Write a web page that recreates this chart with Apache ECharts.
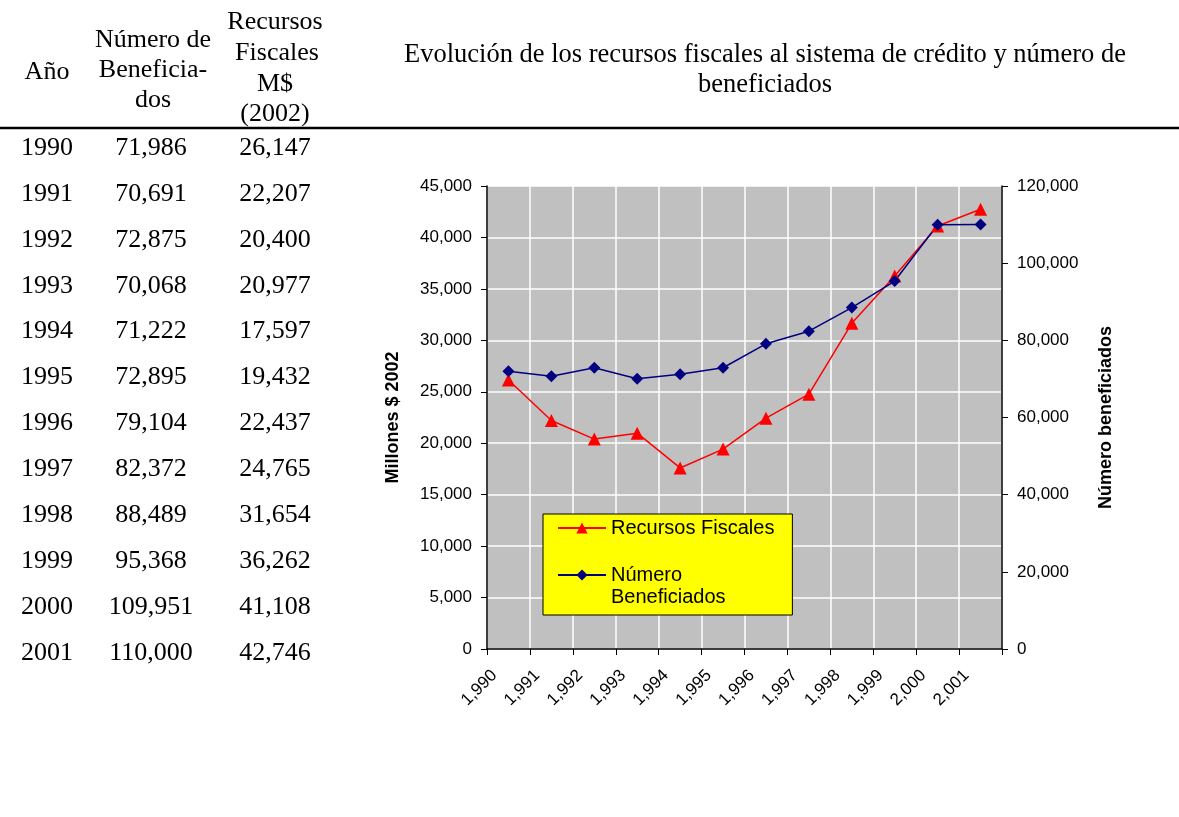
<!DOCTYPE html>
<html>
<head>
<meta charset="utf-8">
<title>Recursos fiscales y beneficiados</title>
<script src="https://cdn.jsdelivr.net/npm/echarts@6/dist/echarts.min.js"></script>
<style>
  html, body { margin: 0; padding: 0; background: #fff; }
  #main { width: 1179px; height: 817px; }
</style>
</head>
<body>
<div id="main"></div>
<script>
// datos de la tabla
var years = [1990, 1991, 1992, 1993, 1994, 1995, 1996, 1997, 1998, 1999, 2000, 2001];
var beneficiados = [71986, 70691, 72875, 70068, 71222, 72895, 79104, 82372, 88489, 95368, 109951, 110000];
var recursos = [26147, 22207, 20400, 20977, 17597, 19432, 22437, 24765, 31654, 36262, 41108, 42746];

var serif = '"Liberation Serif", "Times New Roman", serif';
var sans = '"Liberation Sans", Arial, sans-serif';

function fmt(v) {
  return Number(v).toLocaleString('en-US');
}

// tabla de la izquierda como texto
var graphics = [];
function addText(str, x, y, size) {
  graphics.push({
    type: 'text', x: x, y: y,
    style: { text: str, font: (size || 26) + 'px ' + serif, fill: '#000', textAlign: 'center', textVerticalAlign: 'middle' }
  });
}
addText('Año', 47, 72);
addText('Número de', 153, 40);
addText('Beneficia-', 153, 70);
addText('dos', 153, 100);
addText('Recursos', 275, 22);
addText('Fiscales', 277, 53);
addText('M$', 275, 84);
addText('(2002)', 275, 114);
for (var i = 0; i < years.length; i++) {
  var y = 148 + i * 45.9;
  addText(String(years[i]), 47, y);
  addText(fmt(beneficiados[i]), 151, y);
  addText(fmt(recursos[i]), 275, y);
}
addText('Evolución de los recursos fiscales al sistema de crédito y número de', 765, 55, 26.5);
addText('beneficiados', 765, 85, 26.5);
graphics.push({
  type: 'line',
  shape: { x1: 0, y1: 128, x2: 1179, y2: 128 },
  style: { stroke: '#000', lineWidth: 2.5 }
});

var myChart = echarts.init(document.getElementById('main'));
myChart.setOption({
  animation: false,
  backgroundColor: '#fff',
  graphic: graphics,
  grid: {
    left: 487, right: 177, top: 186, bottom: 168,
    show: true, backgroundColor: '#C0C0C0', borderWidth: 0
  },
  legend: {
    orient: 'vertical',
    left: 543, top: 514,
    backgroundColor: '#FFFF00',
    borderColor: '#000', borderWidth: 1,
    borderRadius: 0,
    padding: [3, 18, 7, 14],
    itemGap: 3,
    itemWidth: 48, itemHeight: 14,
    textStyle: { fontFamily: sans, fontSize: 20, color: '#000', lineHeight: 22 },
    formatter: function (name) {
      return name === 'Número Beneficiados' ? '\nNúmero\nBeneficiados' : name;
    },
    data: ['Recursos Fiscales', 'Número Beneficiados']
  },
  xAxis: {
    type: 'category',
    data: years,
    boundaryGap: true,
    axisLine: { lineStyle: { color: '#000', width: 1.5 } },
    axisTick: { show: true, length: 6, lineStyle: { color: '#000' } },
    splitLine: { show: true, lineStyle: { color: '#fff', width: 1.5 } },
    axisLabel: {
      interval: 0, rotate: 45, margin: 38, color: '#000',
      fontFamily: sans, fontSize: 17,
      verticalAlign: 'bottom', lineHeight: 40,
      formatter: function (v) { return fmt(v); }
    }
  },
  yAxis: [{
    type: 'value',
    min: 0, max: 45000, interval: 5000,
    position: 'left',
    name: 'Millones $ 2002',
    nameLocation: 'middle', nameRotate: 90, nameGap: 85,
    nameTextStyle: { fontFamily: sans, fontSize: 18, fontWeight: 'bold', color: '#000' },
    axisLine: { show: true, lineStyle: { color: '#000', width: 1.5 } },
    axisTick: { show: true, length: 6, lineStyle: { color: '#000' } },
    splitLine: { show: true, lineStyle: { color: '#fff', width: 1.5 } },
    axisLabel: { margin: 15, color: '#000', fontFamily: sans, fontSize: 17, formatter: function (v) { return fmt(v); } }
  }, {
    type: 'value',
    min: 0, max: 120000, interval: 20000,
    position: 'right',
    name: 'Número beneficiados',
    nameLocation: 'middle', nameRotate: 90, nameGap: 95,
    nameTextStyle: { fontFamily: sans, fontSize: 18, fontWeight: 'bold', color: '#000' },
    axisLine: { show: true, lineStyle: { color: '#000', width: 1.5 } },
    axisTick: { show: true, length: 6, lineStyle: { color: '#000' } },
    splitLine: { show: false },
    axisLabel: { margin: 15, color: '#000', fontFamily: sans, fontSize: 17, formatter: function (v) { return fmt(v); } }
  }],
  series: [{
    name: 'Recursos Fiscales',
    type: 'line',
    yAxisIndex: 0,
    data: recursos,
    symbol: 'triangle', symbolSize: 13,
    lineStyle: { color: '#FF0000', width: 1.5 },
    itemStyle: { color: '#FF0000' }
  }, {
    name: 'Número Beneficiados',
    type: 'line',
    yAxisIndex: 1,
    data: beneficiados,
    symbol: 'diamond', symbolSize: 12,
    lineStyle: { color: '#000080', width: 1.5 },
    itemStyle: { color: '#000080' }
  }]
});
</script>
</body>
</html>
